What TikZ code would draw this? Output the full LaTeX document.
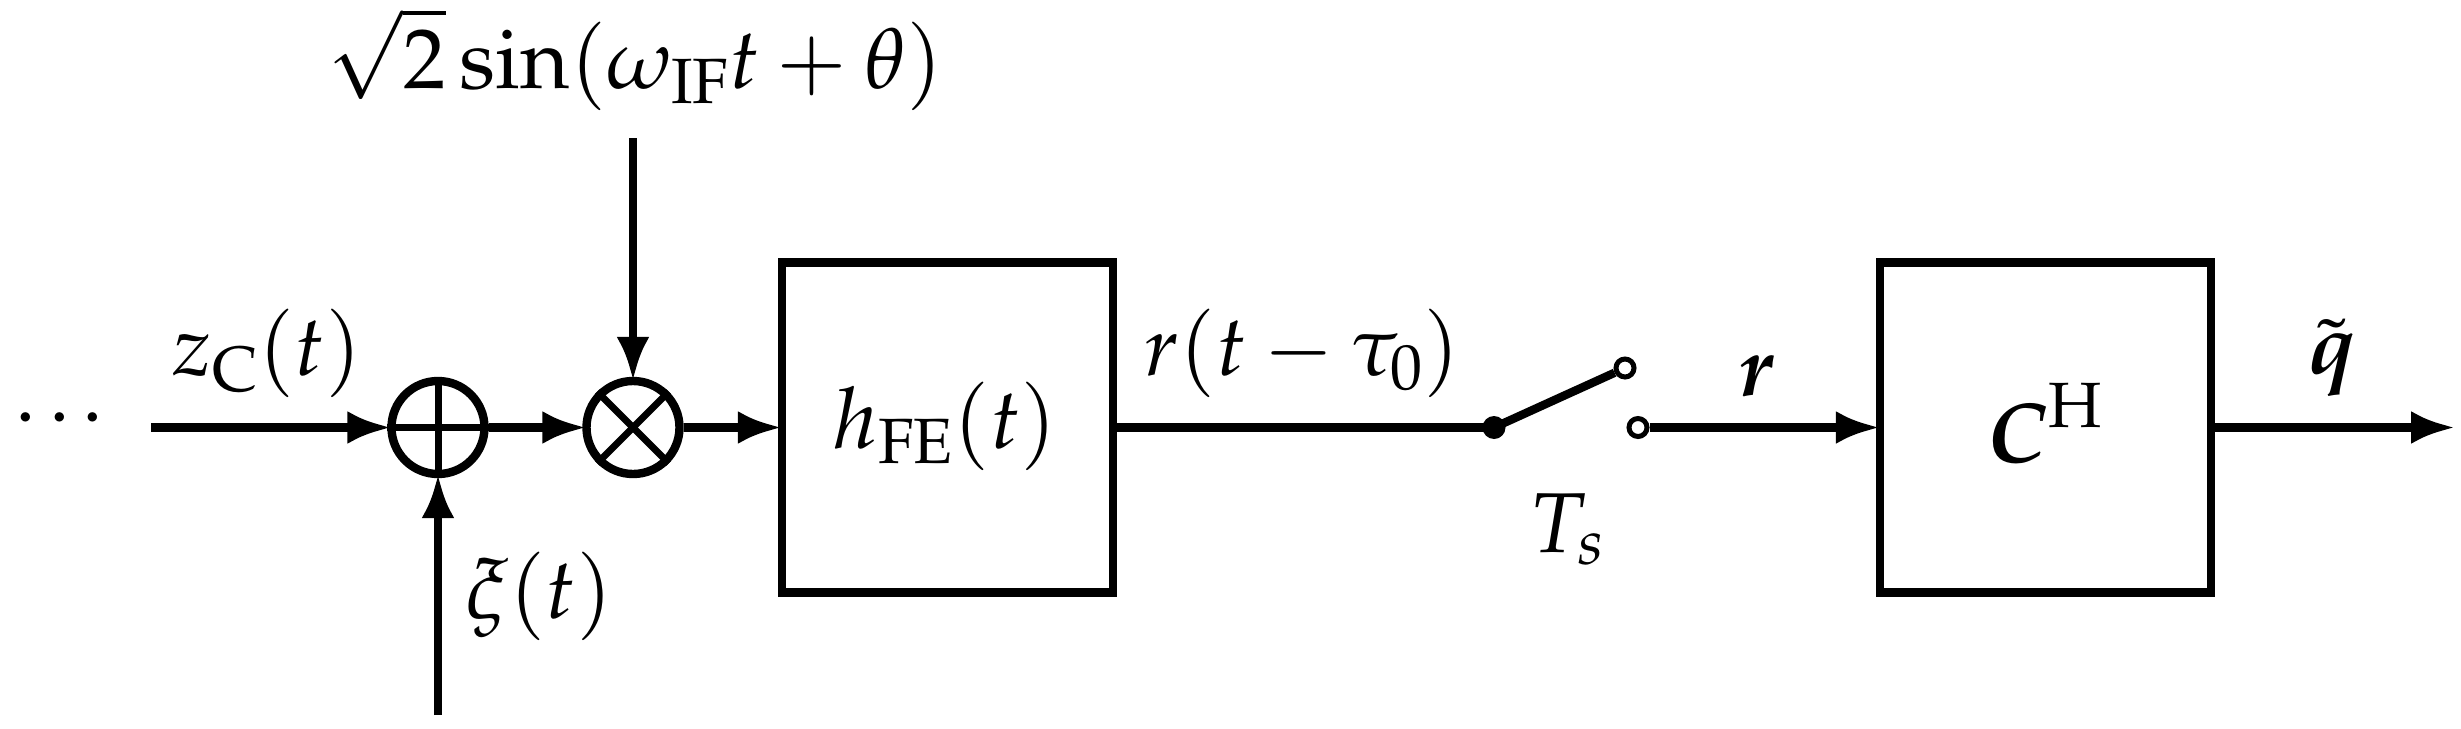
\documentclass[tikz,border=0pt]{standalone}
\usepackage{amsmath}
\usepackage{mathpazo}
\usetikzlibrary{arrows.meta}
\DeclareMathSizes{42.5}{42.5}{32}{22}
\tikzset{
  x=0.5pt,y=0.5pt,
  wire/.style={line width=4.2pt},
  arrowwire/.style={wire,-{Latex[length=22pt,width=16.5pt]},shorten >=-2pt},
  opline/.style={line width=3.5pt},
  blockbox/.style={draw,line width=4.2pt,minimum width=165.5pt,minimum height=165pt,inner sep=0pt},
  junction/.style={circle,draw,line width=4.2pt,minimum size=46.5pt,inner sep=0pt},
  label/.style={inner sep=0pt,anchor=base},
  opendot/.style={circle,draw,line width=2.5pt,fill=white,minimum size=9pt,inner sep=0pt},
  soliddot/.style={circle,fill=black,minimum size=11.5pt,inner sep=0pt},
}
\newcommand{\lbl}[1]{\fontsize{42.5}{50}\selectfont$#1$}
\begin{document}
\begin{tikzpicture}
\useasboundingbox (0,0) rectangle (2461,-728);
\node[junction] (add) at (438,-427.5) {};
\node[junction] (mix) at (633,-427.5) {};
\node[blockbox] (fe) at (947.5,-427.5) {};
\node[blockbox] (ch) at (2045.5,-427.5) {};
\node[soliddot] (sw) at (1494,-427.5) {};
\coordinate (in) at (151,-427.5);
\coordinate (noise) at (438,-715);
\coordinate (osc) at (633,-138);
\coordinate (out) at (2451,-427.5);
% sum and product marks
\draw[opline] (add.west) -- (add.east);
\draw[opline] (add.north) -- (add.south);
\draw[opline] (mix.45) -- (mix.225);
\draw[opline] (mix.135) -- (mix.315);
% connectors
\draw[arrowwire] (in) -- (add.west);
\draw[arrowwire] (noise) -- (add.south);
\draw[arrowwire] (add.east) -- (mix.west);
\draw[arrowwire] (osc) -- (mix.north);
\draw[arrowwire] (mix.east) -- (fe.west);
\draw[wire] (fe.east) -- (sw.center);
\node[opendot] (up) at (1625,-368) {};
\node[opendot] (down) at (1638,-427.5) {};
\draw[wire] (sw.center) -- (up);
\draw[arrowwire] (down) -- (ch.west);
\draw[arrowwire] (ch.east) -- (out);
% labels
\node[label] (dots) at (59.5,-439) {\lbl{\mathord{\cdotp}\mkern1.4mu\mathord{\cdotp}\mkern1.4mu\mathord{\cdotp}}};
\node[label] (lz) at (267,-375) {\lbl{z_{\mathrm{C}}(t)}};
\node[label] (lxi) at (539,-618) {\lbl{\xi(t)}};
\node[label] (lsin) at (635,-88) {\lbl{\sqrt{2}\sin(\omega_{\mathrm{IF}}t+\theta)}};
\node[label] (lh) at (945,-448) {\lbl{h_{\mathrm{FE}}(t)}};
\node[label] (lr) at (1302,-375) {\lbl{r(t-\tau_0)}};
\node[label] (lts) at (1567,-552) {\lbl{T_{s}}};
\node[label] (lrb) at (1757,-395) {\lbl{\boldsymbol{r}}};
\node[label] (lc) at (2045,-462) {\lbl{\boldsymbol{C}^{\mathrm{H}}}};
\node[label] (lq) at (2332,-373) {\lbl{\tilde{\boldsymbol{q}}}};
\end{tikzpicture}
\end{document}
